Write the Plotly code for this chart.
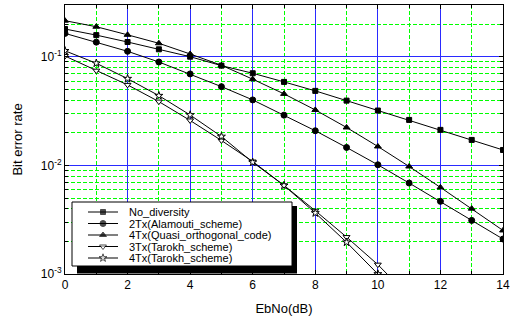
import plotly.graph_objects as go

ebno = list(range(0, 15))
no_diversity = [0.181, 0.159, 0.1374, 0.1177, 0.1006, 0.0832, 0.0708, 0.0589, 0.0487, 0.0396,
                0.0321, 0.0263, 0.0213, 0.0172, 0.0139]
alamouti_2tx = [0.165, 0.137, 0.1128, 0.0899, 0.0698, 0.0533, 0.0402, 0.0291, 0.0209, 0.01466,
                0.01015, 0.00689, 0.00467, 0.00312, 0.00210]
quasi_4tx = [0.216, 0.190, 0.160, 0.1337, 0.1066, 0.0839, 0.0624, 0.0457, 0.0325, 0.0224,
             0.01497, 0.00979, 0.00628, 0.00400, 0.00252]
ebno_t = list(range(0, 12))
tarokh_3tx = [0.102, 0.0748, 0.0553, 0.0388, 0.0260, 0.0170, 0.01088, 0.00655, 0.00383, 0.00219,
              0.00122, 0.00062]
tarokh_4tx = [0.114, 0.0875, 0.0631, 0.0440, 0.0292, 0.0185, 0.0107, 0.00655, 0.00365, 0.00196,
              0.00100, 0.0005]

names = ["No_diversity", "2Tx(Alamouti_scheme)", "4Tx(Quasi_orthogonal_code)",
         "3Tx(Tarokh_scheme)", "4Tx(Tarokh_scheme)"]
symbols = ["square", "circle", "triangle-up", "triangle-down", "star"]
fills = ["black", "black", "black", "white", "white"]
sizes = [5, 6, 6, 6, 6]
series = [(ebno, no_diversity), (ebno, alamouti_2tx), (ebno, quasi_4tx),
          (ebno_t, tarokh_3tx), (ebno_t, tarokh_4tx)]

y_major = [1e-3, 1e-2, 1e-1]
y_major_text = ["10<sup>-3</sup>", "10<sup>-2</sup>", "10<sup>-1</sup>"]
x_minor = [1, 3, 5, 7, 9, 11, 13]
y_minor = [m * 10.0 ** e for e in (-3, -2, -1) for m in range(2, 10)]

W, H = 512, 316
L, R, T, B = 65, 9, 5, 42
PW, PH = W - L - R, H - T - B

fig = go.Figure()
for (xs, ys), nm, sym, fc, sz in zip(series, names, symbols, fills, sizes):
    fig.add_trace(go.Scatter(x=xs, y=ys, name=nm, mode="lines+markers",
                             line=dict(color="black", width=1),
                             marker=dict(symbol=sym, size=sz, color=fc,
                                         line=dict(color="black", width=1)),
                             showlegend=False))

def px(x):
    return (x - L) / PW

def py(y):
    return (T + PH - y) / PH

def rect(x0, y0, x1, y1, fill, lw, lc):
    return go.Scatter(x=[px(x0), px(x1), px(x1), px(x0), px(x0)],
                      y=[py(y0), py(y0), py(y1), py(y1), py(y0)],
                      xaxis="x2", yaxis="y2", mode="lines", fill="toself",
                      fillcolor=fill, line=dict(color=lc, width=lw),
                      showlegend=False, hoverinfo="skip")

fig.add_trace(rect(77, 206, 297, 273.5, "black", 0, "black"))
fig.add_trace(rect(72, 202, 292, 266, "white", 1, "black"))

rows = [212, 223.5, 235, 246.5, 258]
for ry, nm, sym, fc, sz in zip(rows, names, symbols, fills, sizes):
    fig.add_trace(go.Scatter(x=[px(88), px(103), px(118)], y=[py(ry)] * 3,
                             xaxis="x2", yaxis="y2", mode="lines+markers",
                             line=dict(color="black", width=1),
                             marker=dict(symbol=sym, size=[0, sz, 0], color=fc,
                                         line=dict(color="black", width=[0, 1, 0])),
                             showlegend=False, hoverinfo="skip"))
    fig.add_annotation(x=px(127), y=py(ry), xref="x2", yref="y2", text=nm,
                       showarrow=False, xanchor="left", yanchor="middle",
                       font=dict(size=11, color="black", family="Liberation Sans, Arial"))

font = dict(family="Liberation Sans, Arial", size=12, color="black")
grid_green = "#00ff00"
grid_blue = "#2a2aff"
fig.update_layout(
    width=W, height=H, margin=dict(l=L, r=R, t=T, b=B, autoexpand=False),
    plot_bgcolor="white", paper_bgcolor="white", font=font, showlegend=False,
    xaxis=dict(range=[0, 14], dtick=2, tick0=0, showgrid=True, gridcolor=grid_blue,
               gridwidth=1, zeroline=False, showline=True, linecolor="black", linewidth=1,
               mirror="allticks", ticks="inside", ticklen=4, tickcolor="black",
               automargin=False,
               minor=dict(tickvals=x_minor, showgrid=True, gridcolor=grid_green,
                          griddash="4px,2px", gridwidth=1.2,
                          ticks="inside", ticklen=3, tickcolor="black"),
               title=dict(text="EbNo(dB)", font=dict(size=13)),
               tickfont=dict(size=12)),
    yaxis=dict(type="log", range=[-3, -0.521], tickmode="array", tickvals=y_major,
               ticktext=y_major_text,
               showgrid=True, gridcolor=grid_blue, gridwidth=1, zeroline=False,
               showline=True, linecolor="black", linewidth=1, mirror="allticks",
               ticks="inside", ticklen=4, tickcolor="black", automargin=False,
               minor=dict(tickvals=y_minor, showgrid=True, gridcolor=grid_green,
                          griddash="4px,2px", gridwidth=1.2,
                          ticks="inside", ticklen=3, tickcolor="black"),
               title=dict(text="Bit error rate", font=dict(size=13)),
               tickfont=dict(size=12)),
    xaxis2=dict(overlaying="x", range=[0, 1], visible=False, fixedrange=True),
    yaxis2=dict(overlaying="y", range=[0, 1], visible=False, fixedrange=True),
)

fig.write_html("out.html", config={"displayModeBar": False},
               post_script="document.body.style.margin='0';")
